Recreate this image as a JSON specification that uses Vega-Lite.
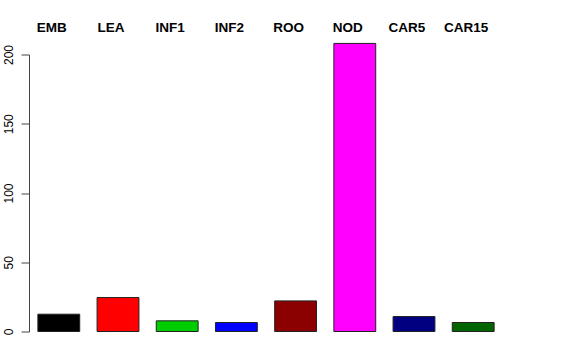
{
  "$schema": "https://vega.github.io/schema/vega-lite/v6.json",
  "autosize": "none",
  "padding": {"left": 29, "top": 54.5, "right": 73, "bottom": 29},
  "width": 474,
  "height": 277,
  "background": "white",
  "data": {"values": [
    {"sample": "EMB", "value": 12.5, "color": "#000000"},
    {"sample": "LEA", "value": 24.5, "color": "#FF0000"},
    {"sample": "INF1", "value": 7.7, "color": "#00CD00"},
    {"sample": "INF2", "value": 6.5, "color": "#0000FF"},
    {"sample": "ROO", "value": 22.1, "color": "#8B0000"},
    {"sample": "NOD", "value": 208, "color": "#FF00FF"},
    {"sample": "CAR5", "value": 10.8, "color": "#000080"},
    {"sample": "CAR15", "value": 6.5, "color": "#006400"}
  ]},
  "mark": {"type": "bar", "stroke": "#222222", "strokeWidth": 1, "clip": false},
  "encoding": {
    "x": {
      "field": "sample", "type": "nominal", "sort": null,
      "scale": {"paddingInner": 0.293, "paddingOuter": 0.15},
      "axis": {
        "orient": "top", "title": null, "domain": false, "ticks": false,
        "labelAngle": 0, "labelPadding": 20, "labelOffset": -7,
        "labelFont": "Liberation Sans", "labelFontSize": 13.5, "labelFontWeight": "bold",
        "labelColor": "#000000"
      }
    },
    "y": {
      "field": "value", "type": "quantitative",
      "scale": {"domain": [0, 200], "nice": false, "zero": true},
      "axis": {
        "title": null, "grid": false, "values": [0, 50, 100, 150, 200],
        "domainColor": "#444444", "tickColor": "#444444", "tickSize": 8,
        "labelAngle": -90, "labelAlign": "center", "labelBaseline": "bottom",
        "labelPadding": 6, "labelFont": "Liberation Sans", "labelFontSize": 12,
        "labelColor": "#000000"
      }
    },
    "fill": {"field": "color", "type": "nominal", "scale": null, "legend": null}
  },
  "config": {"view": {"stroke": null}}
}
